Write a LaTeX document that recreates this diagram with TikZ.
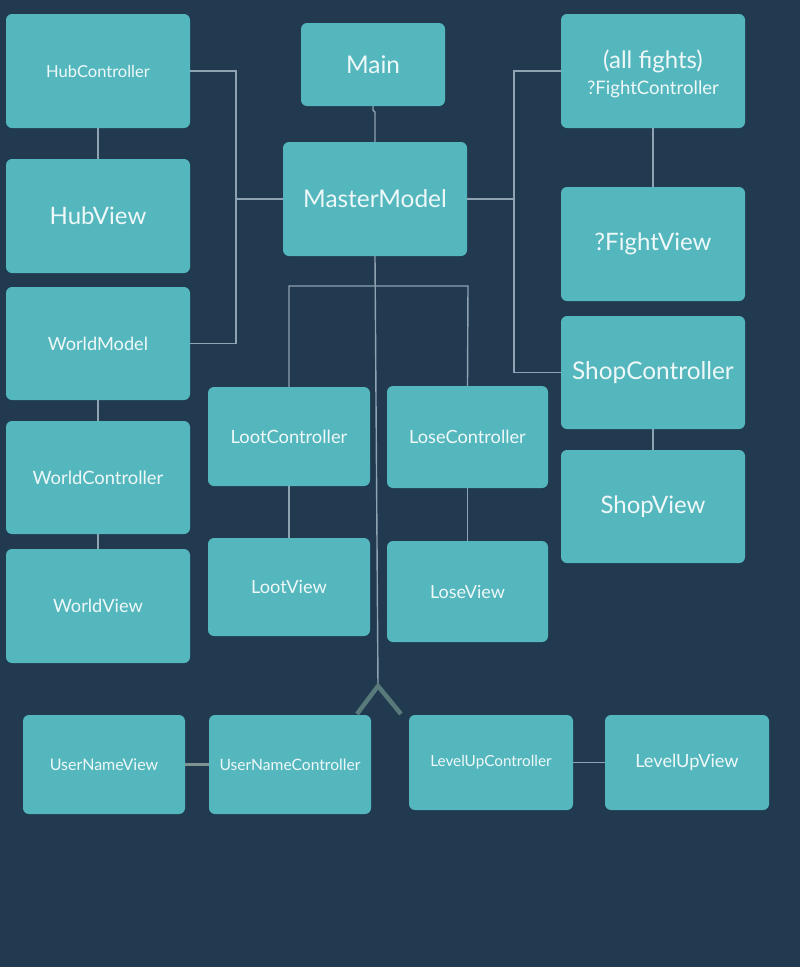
\documentclass[tikz,border=0pt]{standalone}
\usepackage{fontspec}
\setmainfont{Lato}
\definecolor{bgc}{HTML}{213A50}
\definecolor{boxc}{HTML}{55B7BE}
\definecolor{txtc}{HTML}{EEF8F8}
\definecolor{linec}{HTML}{8FA3B3}
\definecolor{chevc}{HTML}{587A7A}
\definecolor{grayc}{HTML}{7F9393}
\newcommand{\fs}[1]{\fontsize{#1}{#1}\selectfont}
\newcommand{\lw}[1]{\raisebox{-1.5pt}{#1}}
\tikzset{
  box/.style={fill=boxc, rounded corners=6pt, inner sep=0pt, text=txtc, align=center},
  conn/.style={draw=linec, line width=1.4pt},
  chev/.style={draw=chevc, line width=4.5pt},
}
\begin{document}
\begin{tikzpicture}[x=1pt,y=-1pt]
\fill[bgc] (0,0) rectangle (800,967);
\useasboundingbox (0,0) rectangle (800,967);
% left column
\node[box, minimum width=184, minimum height=114, font=\fs{16.5}] (hubc) at (98,71) {\lw{HubController}};
\node[box, minimum width=184, minimum height=114, font=\fs{24}] (hubv) at (98,216) {\lw{HubView}};
\node[box, minimum width=184, minimum height=113, font=\fs{18.2}] (wmodel) at (98,343.5) {\lw{WorldModel}};
\node[box, minimum width=184, minimum height=113, font=\fs{18.4}] (wctrl) at (98,477.5) {\lw{WorldController}};
\node[box, minimum width=184, minimum height=114, font=\fs{18.2}] (wview) at (98,606) {\lw{WorldView}};
% center
\node[box, minimum width=144, minimum height=83, font=\fs{24.4}] (main) at (373,64.5) {Main};
\node[box, minimum width=184, minimum height=114, font=\fs{24.4}] (master) at (375,199) {\lw{MasterModel}};
% right column
\node[box, minimum width=184, minimum height=114] (fightc) at (653,71) {};
\node[text=txtc, align=center, inner sep=0pt, font=\fontsize{18.6}{26}\selectfont] (fightt) at (653,74) {{\fontsize{24}{26}\selectfont(all fights)}\\?FightController};
\node[box, minimum width=184, minimum height=114, font=\fs{24}] (fightv) at (653,244) {\raisebox{-2.5pt}{?FightView}};
\node[box, minimum width=184, minimum height=113, font=\fs{24.4}] (shopc) at (653,372.5) {\lw{ShopController}};
\node[box, minimum width=184, minimum height=113, font=\fs{24}] (shopv) at (653,506.5) {\lw{ShopView}};
% middle
\node[box, minimum width=162, minimum height=99, font=\fs{18.3}] (lootc) at (289,436.5) {LootController};
\node[box, minimum width=161, minimum height=102, font=\fs{18.2}] (losec) at (467.5,437) {LoseController};
\node[box, minimum width=162, minimum height=98, font=\fs{18.2}] (lootv) at (289,587) {LootView};
\node[box, minimum width=161, minimum height=101, font=\fs{18}] (losev) at (467.5,591.5) {LoseView};
% bottom row
\node[box, minimum width=162, minimum height=99, font=\fs{16}] (unview) at (104,764.5) {UserNameView};
\node[box, minimum width=162, minimum height=99, font=\fs{15.6}] (unctrl) at (290,764.5) {UserNameController};
\node[box, minimum width=164, minimum height=95, font=\fs{15.3}] (luctrl) at (491,762.5) {\lw{LevelUpController}};
\node[box, minimum width=164, minimum height=95, font=\fs{18.2}] (luview) at (687,762.5) {\lw{LevelUpView}};
% coordinates
\coordinate (lbus) at (236,199);
\coordinate (rbus) at (514,199);
\coordinate (bl) at (289,286);
\coordinate (br) at (468,286);
\coordinate (apex) at (378,686);
% connectors
\draw[conn] (hubc.east) -| (lbus) |- (wmodel.east);
\draw[conn] (lbus) -- (master.west);
\draw[conn] (hubc.south) -- (hubv.north);
\draw[conn] (wmodel.south) -- (wctrl.north);
\draw[conn] (wctrl.south) -- (wview.north);
\draw[conn] (main.south) -- ++(0,4) -- ++(2,2) -- (master.north);
\draw[conn] (fightc.west) -| (rbus) |- (shopc.west);
\draw[conn] (rbus) -- (master.east);
\draw[conn] (fightc.south) -- (fightv.north);
\draw[conn] (shopc.south) -- (shopv.north);
\draw[conn] (lootc.north) |- (bl) -- (br) -- (losec.north);
\draw[conn] (lootc.south) -- (lootv.north);
\draw[conn] (losec.south) -- (losev.north);
\draw[conn] (master.south) -- (apex);
\draw[chev] (apex) ++(-21,28) -- (apex) -- ++(23,28);
\draw[draw=grayc, line width=2.5pt] (unview.east) -- (unctrl.west);
\draw[conn] (luctrl.east) -- (luview.west);
\end{tikzpicture}
\end{document}
